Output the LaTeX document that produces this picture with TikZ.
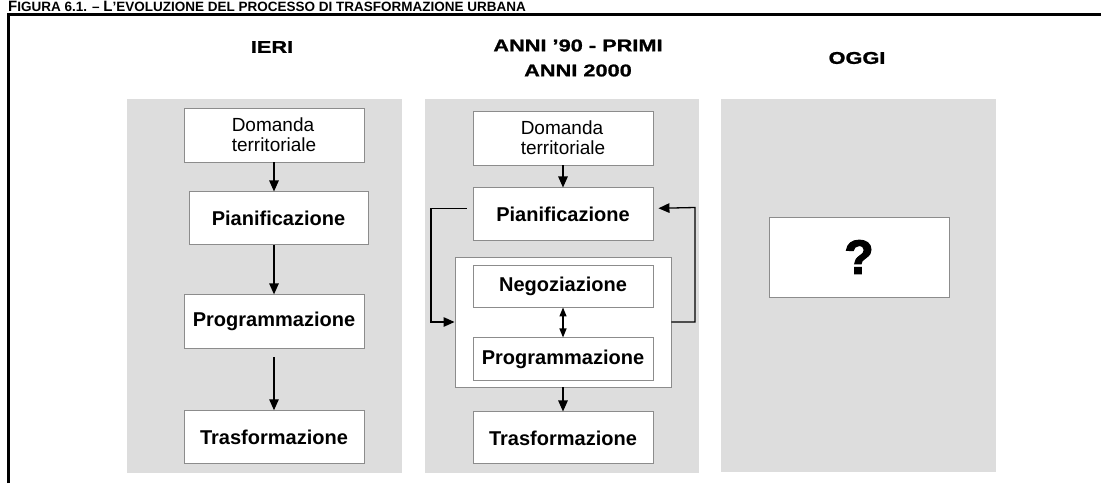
\documentclass[tikz,border=0pt]{standalone}
\usepackage{fontspec}
\setmainfont{Liberation Sans}
\newfontfamily\hdrfont[FakeStretch=1.28,FakeBold=1.2]{Liberation Sans}
\newfontfamily\heavyfont[FakeBold=2.5]{Liberation Sans}
\usetikzlibrary{positioning,arrows.meta}
\definecolor{panelgray}{HTML}{DDDDDD}
\definecolor{boxgray}{HTML}{8C8C8C}

\begin{document}
\begin{tikzpicture}[
    x=1pt, y=-1pt,
    node distance=30pt,
    panel/.style={fill=panelgray},
    box/.style={rectangle, draw=boxgray, fill=white, line width=0.9pt, minimum width=180pt, minimum height=53pt, inner sep=0pt, align=center, font=\bfseries\fontsize{20}{24}\selectfont},
    plainbox/.style={box, minimum height=54pt, align=left, font=\fontsize{19}{20}\selectfont},
    header/.style={align=center, font=\hdrfont\bfseries\fontsize{17}{25}\selectfont},
    arrow/.style={-{Triangle[length=11pt,width=9.5pt]}, line width=1.3pt},
    darrow/.style={{Triangle[length=9pt,width=7pt]}-{Triangle[length=9pt,width=7pt]}, line width=1.3pt}
]
\useasboundingbox (0,0) rectangle (1101,483);

% -------- Frame --------
\node[anchor=base west, inner sep=0pt, font=\bfseries\fontsize{13.5}{13.5}\selectfont] (title) at (8,11)
  {{\fontsize{15}{15}\selectfont F}IGURA 6.1. -- {\fontsize{15}{15}\selectfont L}’EVOLUZIONE DEL PROCESSO DI TRASFORMAZIONE URBANA};
\draw[line width=2.6pt] (8.7,483) -- (8.7,14.3) -- (1101,14.3);

% -------- Panels --------
\fill[panel] (127,99) rectangle (402,473);
\fill[panel] (425,99) rectangle (699,473);
\fill[panel] (721,99) rectangle (996,472);

% -------- Headers --------
\node[header] (ieri) at (272,47) {IERI};
\node[header] (anni) at (578,58) {ANNI ’90 - PRIMI\\ANNI 2000};
\node[header] (oggi) at (857,58) {OGGI};

% -------- Ieri --------
\node[plainbox] (dom1) at (274,135) {Domanda\\territoriale};
\node[box, below=29pt of dom1, xshift=4.5pt, minimum width=179pt] (pia1) {Pianificazione};
\node[box, below=49pt of pia1, xshift=-4.5pt, minimum height=54pt] (prg1) {Programmazione};
\node[box, below=61pt of prg1] (tra1) {Trasformazione};

% -------- Anni 90 --------
\node[plainbox] (dom2) at (563,138) {Domanda\\territoriale};
\node[box, below=22pt of dom2] (pia2) {Pianificazione};
\node[box, minimum width=216pt, minimum height=130pt] (outer) at (563,322) {};
\node[box, minimum height=42pt] (neg) at (563,286) {Negoziazione};
\node[box, below=30pt of neg, minimum height=43pt] (prg2) {Programmazione};
\node[box, below=24pt of outer, minimum height=52pt] (tra2) {Trasformazione};
\coordinate (loopL) at (431,322);
\coordinate (loopR) at (695,207.5);

% -------- Oggi --------
\node[box, minimum height=80pt, font=\heavyfont\bfseries\fontsize{48}{48}\selectfont] (ask) at (859,257) {?};

% -------- Arrows --------
\draw[arrow] (dom1.south) -- (dom1.south |- pia1.north);
\draw[arrow] (prg1.north |- pia1.south) -- (prg1.north);
\draw[arrow, shorten <=8pt] (prg1) -- (tra1);
\draw[arrow] (dom2) -- (pia2);
\draw[darrow] (neg) -- (prg2);
\draw[arrow] (outer) -- (tra2);
\draw[arrow, shorten <=6pt] ([yshift=6pt]pia2.west) -| (loopL) -- (outer.west);
\draw[arrow, shorten >=5pt] (outer.east) -| (loopR) -- ([yshift=6pt]pia2.east);

\end{tikzpicture}
\end{document}
